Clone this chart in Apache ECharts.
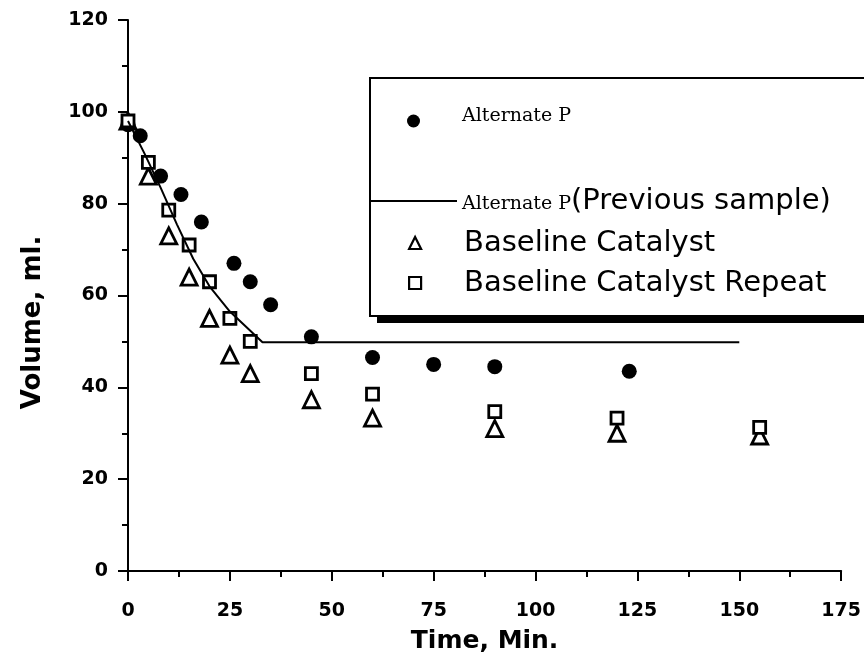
<!DOCTYPE html>
<html><head><meta charset="utf-8">
<script src="https://cdn.jsdelivr.net/npm/echarts@6/dist/echarts.min.js"></script>
<style>html,body{margin:0;padding:0;background:#fff}#c{width:864px;height:668px}</style>
</head><body><div id="c"></div>
<script>
// Alternate P (filled circles)
const altP_t = [0, 3, 8, 13, 18, 26, 30, 35, 45, 60, 75, 90, 123];
const altP_v = [97.2, 94.8, 86, 82, 76, 67, 63, 58, 51, 46.5, 45, 44.5, 43.5];
// Alternate P (Previous sample) - solid line
const prev_t = [0, 4, 8, 12, 16, 20, 25, 33, 150];
const prev_v = [98, 91, 83.5, 75.5, 68, 62, 56.5, 49.8, 49.8];
// Baseline Catalyst (triangles)
const base_t = [0, 5, 10, 15, 20, 25, 30, 45, 60, 90, 120, 155];
const base_v = [98, 86, 73, 64, 55, 47, 43, 37.3, 33.3, 31, 30, 29.4];
// Baseline Catalyst Repeat (squares)
const rep_t = [0, 5, 10, 15, 20, 25, 30, 45, 60, 90, 120, 155];
const rep_v = [98, 89, 78.6, 71, 63, 55, 50, 43, 38.5, 34.7, 33.3, 31.3];

const seriesNames = ['Alternate P', 'Alternate P(Previous sample)', 'Baseline Catalyst', 'Baseline Catalyst Repeat'];
const xTitle = 'Time, Min.';
const yTitle = 'Volume, ml.';

const zip = (a, b) => a.map((x, i) => [x, b[i]]);
const SANS = 'DejaVu Sans';
const SERIF = "'DejaVu Serif', 'Liberation Serif', serif";

const rich = {
  s: { fontFamily: SERIF, fontSize: 19, lineHeight: 30, color: '#000', padding: [6, 0, 0, 0] },
  sp: { fontFamily: SERIF, fontSize: 19, lineHeight: 30, color: '#000', padding: [0, 0, 10, 37] },
  b: { fontFamily: SANS, fontSize: 29, lineHeight: 30, color: '#000' },
  bp: { fontFamily: SANS, fontSize: 29, lineHeight: 30, color: '#000', padding: [0, 0, 0, 38] }
};
function legendFmt(name) {
  if (name === 'Alternate P') return '{sp|Alternate P}';
  if (name === 'Alternate P(Previous sample)') return '{s|Alternate P}{b|(Previous sample)}';
  return '{bp|' + name + '}';
}

const chart = echarts.init(document.getElementById('c'), null, { renderer: 'canvas' });
const axisCommon = {
  axisLine: { onZero: false, lineStyle: { color: '#000', width: 2 } },
  axisTick: { length: 10, lineStyle: { color: '#000', width: 2 } },
  minorTick: { show: true, splitNumber: 2, length: 6, lineStyle: { color: '#000', width: 2 } },
  splitLine: { show: false },
  minorSplitLine: { show: false }
};
const legendCommon = {
  padding: 0, orient: 'vertical', itemGap: 10, selectedMode: false, z: 10,
  formatter: legendFmt, textStyle: { rich: rich, lineHeight: 30 }
};
chart.setOption({
  animation: false,
  backgroundColor: '#fff',
  grid: { left: 128, right: 21, top: 20, bottom: 97 },
  xAxis: Object.assign({
    type: 'value', min: 0, max: 175, interval: 25,
    axisLabel: { color: '#000', fontFamily: SANS, fontSize: 19, fontWeight: 'bold', margin: 31 },
    name: xTitle, nameLocation: 'middle', nameGap: 58,
    nameTextStyle: { color: '#000', fontFamily: SANS, fontSize: 25, fontWeight: 'bold' }
  }, axisCommon),
  yAxis: Object.assign({
    type: 'value', min: 0, max: 120, interval: 20,
    axisLabel: { color: '#000', fontFamily: SANS, fontSize: 19, fontWeight: 'bold', margin: 20 },
    name: yTitle, nameLocation: 'middle', nameGap: 82,
    nameTextStyle: { color: '#000', fontFamily: SANS, fontSize: 26, fontWeight: 'bold', padding: [0, 54, 0, 0] }
  }, axisCommon),
  graphic: [
    { type: 'rect', z: 5, shape: { x: 370, y: 78, width: 520, height: 238 }, style: { fill: '#fff', stroke: '#000', lineWidth: 2 } },
    { type: 'rect', z: 5, shape: { x: 377, y: 316, width: 500, height: 7 }, style: { fill: '#000' } }
  ],
  legend: [
    Object.assign({ left: 407, top: 106, itemWidth: 13, itemHeight: 13, data: [seriesNames[0]] }, legendCommon),
    Object.assign({ left: 370, top: 186, itemWidth: 86, itemHeight: 10,
      data: [{ name: seriesNames[1], itemStyle: { color: 'rgba(0,0,0,0)', borderColor: 'rgba(0,0,0,0)', borderWidth: 0, opacity: 0 }, lineStyle: { width: 2, color: '#000' } }] }, legendCommon),
    Object.assign({ left: 408, top: 228, itemWidth: 12, itemHeight: 12,
      data: [{ name: seriesNames[2], itemStyle: { borderWidth: 2.2 } }, { name: seriesNames[3], itemStyle: { borderWidth: 2.2 } }] }, legendCommon)
  ],
  series: [
    { name: seriesNames[0], type: 'scatter', data: zip(altP_t, altP_v), symbol: 'circle', symbolSize: 15,
      itemStyle: { color: '#000', opacity: 1 } },
    { name: seriesNames[1], type: 'line', data: zip(prev_t, prev_v), symbol: 'none', showSymbol: false,
      lineStyle: { color: '#000', width: 2 }, itemStyle: { color: '#000' } },
    { name: seriesNames[2], type: 'scatter', data: zip(base_t, base_v), symbol: 'triangle', symbolSize: 16,
      itemStyle: { color: '#fff', borderColor: '#000', borderWidth: 2.8, opacity: 1 } },
    { name: seriesNames[3], type: 'scatter', data: zip(rep_t, rep_v), symbol: 'rect', symbolSize: 12,
      itemStyle: { color: '#fff', borderColor: '#000', borderWidth: 2.8, opacity: 1 } }
  ]
});
</script></body></html>
